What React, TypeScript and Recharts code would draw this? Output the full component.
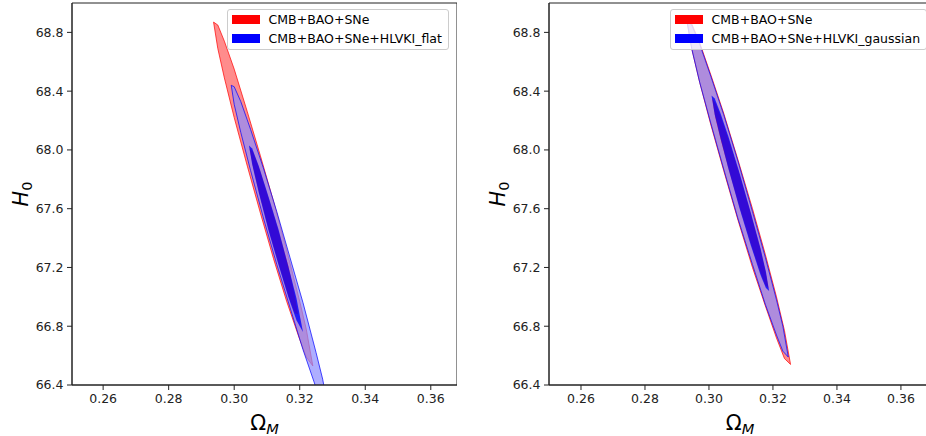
import { ComposedChart, Area, XAxis, YAxis, Legend, ReferenceArea } from 'recharts'

// contour boundaries: [Omega_M, H0 low, H0 high]
type Edge = [number, number, number]

const flatBase95: Edge[] = [
  [0.2937, 68.87, 68.87], [0.2950, 68.69, 68.85], [0.2970, 68.49, 68.74], [0.3000, 68.22, 68.55],
  [0.3040, 67.89, 68.26], [0.3080, 67.57, 67.96], [0.3120, 67.26, 67.65], [0.3160, 66.97, 67.32],
  [0.3200, 66.71, 66.97], [0.3220, 66.59, 66.78], [0.3240, 66.53, 66.53],
]
const flatBase68: Edge[] = [
  [0.3047, 68.01, 68.01], [0.3057, 67.89, 67.99], [0.3077, 67.70, 67.87], [0.3105, 67.46, 67.67],
  [0.3135, 67.23, 67.45], [0.3165, 67.01, 67.21], [0.3185, 66.89, 67.01], [0.3195, 66.88, 66.88],
]
const flatGw95: Edge[] = [
  [0.2991, 68.44, 68.44], [0.3000, 68.31, 68.43], [0.3020, 68.12, 68.33], [0.3050, 67.86, 68.14],
  [0.3090, 67.53, 67.87], [0.3130, 67.22, 67.58], [0.3170, 66.93, 67.27], [0.3210, 66.64, 66.96],
  [0.3250, 66.38, 66.62], [0.3270, 66.26, 66.44], [0.3290, 66.20, 66.20],
]
const flatGw68: Edge[] = [
  [0.3045, 68.03, 68.03], [0.3055, 67.90, 68.01], [0.3075, 67.71, 67.89], [0.3105, 67.45, 67.68],
  [0.3135, 67.22, 67.46], [0.3165, 67.00, 67.21], [0.3190, 66.84, 66.99], [0.3210, 66.76, 66.76],
]

const gaussBase95: Edge[] = [
  [0.2931, 68.88, 68.88], [0.2946, 68.69, 68.86], [0.2971, 68.46, 68.73], [0.3006, 68.17, 68.51],
  [0.3046, 67.86, 68.25], [0.3091, 67.52, 67.93], [0.3136, 67.20, 67.60], [0.3176, 66.94, 67.29],
  [0.3211, 66.72, 67.00], [0.3236, 66.58, 66.77], [0.3255, 66.54, 66.54],
]
const gaussBase68: Edge[] = [
  [0.3010, 68.35, 68.35], [0.3020, 68.22, 68.32], [0.3038, 68.06, 68.22], [0.3063, 67.86, 68.06],
  [0.3096, 67.61, 67.83], [0.3130, 67.37, 67.57], [0.3160, 67.17, 67.33], [0.3176, 67.08, 67.18],
  [0.3186, 67.06, 67.06],
]
const gaussGw95: Edge[] = [
  [0.2931, 68.88, 68.88], [0.2946, 68.69, 68.85], [0.2971, 68.46, 68.72], [0.3006, 68.18, 68.50],
  [0.3046, 67.87, 68.24], [0.3091, 67.53, 67.92], [0.3136, 67.22, 67.58], [0.3176, 66.95, 67.27],
  [0.3211, 66.74, 66.98], [0.3231, 66.63, 66.80], [0.3248, 66.59, 66.59],
]
const gaussGw68: Edge[] = [
  [0.3008, 68.37, 68.37], [0.3018, 68.24, 68.35], [0.3036, 68.08, 68.25], [0.3061, 67.87, 68.09],
  [0.3096, 67.60, 67.84], [0.3131, 67.35, 67.57], [0.3161, 67.15, 67.33], [0.3178, 67.06, 67.17],
  [0.3188, 67.04, 67.04],
]

const X_TICKS = [0.26, 0.28, 0.30, 0.32, 0.34, 0.36]
const Y_TICKS = [66.4, 66.8, 67.2, 67.6, 68.0, 68.4, 68.8]
const Y_DOMAIN: [number, number] = [66.4, 69.0]
const BASE_LABEL = 'CMB+BAO+SNe'
const RED = '#ff0000'
const BLUE = '#0000ff'
const AXIS = '#222'
const FONT = '"DejaVu Sans", sans-serif'

function buildRows(sets: Record<string, Edge[]>) {
  const rows: Record<string, number | number[]>[] = []
  for (const [key, edges] of Object.entries(sets)) {
    for (const [om, lo, hi] of edges) rows.push({ om, [key]: [lo, hi] })
  }
  return rows.sort((a, b) => (a.om as number) - (b.om as number))
}

function XLabel({ viewBox }: any) {
  const cx = viewBox.x + viewBox.width / 2
  return (
    <text x={cx} y={viewBox.y + 45} textAnchor="middle" fontFamily={FONT} fontSize={20.8} fill="#000">
      <tspan>Ω</tspan>
      <tspan fontStyle="italic" fontSize={14.6} dy={4}>M</tspan>
    </text>
  )
}

function YLabel({ viewBox }: any) {
  const cy = viewBox.y + viewBox.height / 2
  return (
    <text x={28} y={cy} transform={`rotate(-90, 28, ${cy})`} textAnchor="middle" fontFamily={FONT} fontSize={20.8} fill="#000">
      <tspan fontStyle="italic">H</tspan>
      <tspan fontSize={14.6} dy={4}>0</tspan>
    </text>
  )
}

function LegendBox({ labels }: { labels: [string, string][] }) {
  return (
    <div style={{
      border: '1px solid #cccccc', borderRadius: 3, background: 'rgba(255,255,255,0.8)',
      padding: '0 6px 1.5px 4px', fontFamily: FONT, fontSize: 12.5, color: '#000', whiteSpace: 'nowrap',
    }}>
      {labels.map(([text, color]) => (
        <div key={text} style={{ display: 'flex', alignItems: 'center', height: 18.7 }}>
          <span style={{ display: 'inline-block', width: 27.6, height: 9, background: color, marginRight: 9 }} />
          <span>{text}</span>
        </div>
      ))}
    </div>
  )
}

function Panel({ width, xMax, xMin, sets, gwLabel, legendLeft }: {
  width: number; xMin: number; xMax: number; sets: Record<string, Edge[]>; gwLabel: string; legendLeft: number
}) {
  const data = buildRows(sets)
  const labels: [string, string][] = [[BASE_LABEL, RED], [gwLabel, BLUE]]
  // key, fill, opacity, edge colour (outer bands first, the inner regions on top)
  const areas: [string, string, number, string][] = [
    ['base95', '#ff6f6f', 0.8, RED],
    ['gw95', '#8c8cff', 0.7, BLUE],
    ['base68', '#ff3333', 1, 'none'],
    ['gw68', BLUE, 0.8, 'none'],
  ]
  return (
    <ComposedChart width={width} height={436} data={data} margin={{ top: 3, right: 0, bottom: 0, left: 0 }}>
      <XAxis
        dataKey="om" type="number" domain={[xMin, xMax]} ticks={X_TICKS} allowDataOverflow
        tickFormatter={(v: number) => v.toFixed(2)} height={51} tickSize={5} tickMargin={4.5}
        stroke={AXIS} tick={{ fill: AXIS, fontSize: 12.5, fontFamily: FONT }} label={<XLabel />}
      />
      <YAxis
        type="number" domain={Y_DOMAIN} ticks={Y_TICKS} allowDataOverflow
        tickFormatter={(v: number) => v.toFixed(1)} width={72} tickSize={5} tickMargin={3.5}
        stroke={AXIS} tick={{ fill: AXIS, fontSize: 12.5, fontFamily: FONT }} label={<YLabel />}
      />
      {areas.map(([key, fill, op, edge]) => (
        <Area
          key={key} dataKey={key} type="linear" connectNulls isAnimationActive={false}
          fill={fill} fillOpacity={op} stroke={edge} strokeOpacity={0.7}
          strokeWidth={1} dot={false} activeDot={false} legendType="none"
        />
      ))}
      <ReferenceArea
        x1={xMin} x2={xMax} y1={Y_DOMAIN[0]} y2={Y_DOMAIN[1]} ifOverflow="visible"
        fill="none" stroke={AXIS} strokeWidth={1}
      />
      <Legend
        layout="vertical" align="center" verticalAlign="middle"
        wrapperStyle={{ top: 9, left: legendLeft, width: 'auto', height: 'auto' }}
        content={() => <LegendBox labels={labels} />}
      />
    </ComposedChart>
  )
}

export default function App() {
  return (
    <div style={{ position: 'fixed', left: 0, top: 0, width: 926, height: 436, overflow: 'hidden', background: '#fff' }}>
      <div style={{ position: 'absolute', left: 0, top: 0 }}>
        <Panel
          width={457} xMin={0.2505} xMax={0.3680} gwLabel="CMB+BAO+SNe+HLVKI_flat" legendLeft={227}
          sets={{ base95: flatBase95, base68: flatBase68, gw95: flatGw95, gw68: flatGw68 }}
        />
      </div>
      <div style={{ position: 'absolute', left: 477, top: 0 }}>
        <Panel
          width={454} xMin={0.2500} xMax={0.3694} gwLabel="CMB+BAO+SNe+HLVKI_gaussian" legendLeft={193}
          sets={{ base95: gaussBase95, base68: gaussBase68, gw95: gaussGw95, gw68: gaussGw68 }}
        />
      </div>
    </div>
  )
}
